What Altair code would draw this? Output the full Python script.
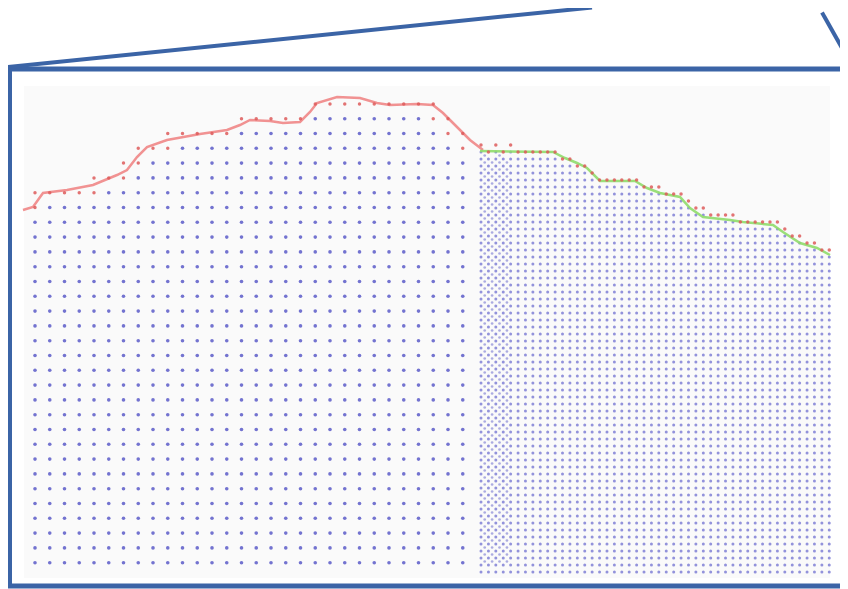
import altair as alt
import pandas as pd

# ---------------- data ----------------
# left (coarse) grid: index of the top row in each of the 30 columns
left_tops = [25, 25, 25, 25, 26, 26, 27, 28, 28, 29, 29, 29, 29, 29, 30,
             30, 30, 30, 30, 31, 31, 31, 31, 31, 31, 31, 31, 31, 30, 29]
# columns that carry a second red dot just below the top one
left_extra_red_col = [0, 4, 6, 7, 9, 27, 28, 29]
left_extra_red_row = [24, 25, 26, 27, 28, 30, 29, 28]

# right (dense) grid: index of the top row in each of the 48 columns
right_tops = [61, 60, 61, 60, 61, 60, 60, 60, 60, 60, 60, 59, 59, 58, 58, 57,
              56, 56, 56, 56, 56, 56, 55, 55, 55, 54, 54, 54, 53, 52, 52, 51,
              51, 51, 51, 50, 50, 50, 50, 50, 50, 49, 48, 48, 47, 47, 46, 46]
n_cross_cols = 4  # columns with the crossed pattern

red_line_x = [23, 33, 43, 67, 93, 117, 127, 137, 147, 167, 200, 227, 240, 250,
              270, 283, 300, 310, 317, 337, 360, 377, 390, 417, 433, 443, 457, 470, 483]
red_line_y = [210, 207, 193, 190, 185, 175, 170, 157, 147, 140, 134, 130, 125, 120,
              121, 123, 122, 112, 103, 97, 98, 103, 105, 104, 105, 113, 127, 140, 150]

green_line_x = [480, 553, 565, 577, 587, 600, 635, 647, 660, 680, 690, 703, 730,
                743, 773, 783, 800, 817, 830]
green_line_y = [151, 152, 158, 163, 168, 181, 181, 188, 193, 197, 208, 217, 220,
                222, 225, 232, 243, 248, 255]

# frame pieces (diagram geometry)
panel = {"x": [24], "x2": [830], "y": [86], "y2": [578]}
frame = {"x": [9.5], "x2": [870], "y": [69], "y2": [586]}
diag_x = [8, 822]
diag_y = [67, 12.5]
diag_x2 = [592, 850]
diag_y2 = [7.5, 62]

# grid geometry
LX0, LDX, LY0, LDY = 35, 14.75, 562.7, 14.8
RX0, RDX, RY0, RDY = 481, 7.41, 572, 7.0

# ---------------- build tables ----------------
blue_rows, red_rows, cross_rows = [], [], []
extra = dict(zip(left_extra_red_col, left_extra_red_row))
for i, top in enumerate(left_tops):
    for k in range(top + 1):
        pt = {"x": LX0 + LDX * i, "y": LY0 - LDY * k}
        if k == top or extra.get(i) == k:
            red_rows.append(pt)
        else:
            blue_rows.append(dict(pt, g="left"))
for j, top in enumerate(right_tops):
    for k in range(top + 1):
        pt = {"x": RX0 + RDX * j, "y": RY0 - RDY * k}
        if k == top:
            red_rows.append(pt)
        else:
            blue_rows.append(dict(pt, g="right"))
    if j < n_cross_cols:
        for k in range(1, top - 1):
            cross_rows.append({"x": RX0 + RDX * (j + 0.5), "y": RY0 - RDY * (k + 0.5)})

blue_df = pd.DataFrame(blue_rows)
red_df = pd.DataFrame(red_rows)
cross_df = pd.DataFrame(cross_rows)
red_line = pd.DataFrame({"x": red_line_x, "y": red_line_y, "o": range(len(red_line_x))})
green_line = pd.DataFrame({"x": green_line_x, "y": green_line_y, "o": range(len(green_line_x))})

W, H = 832, 581
xs = alt.Scale(domain=[8, 8 + W], nice=False, zero=False)
ys = alt.Scale(domain=[8, 8 + H], nice=False, zero=False, reverse=True)
X = lambda f="x": alt.X(f"{f}:Q", scale=xs, axis=None)
Y = lambda f="y": alt.Y(f"{f}:Q", scale=ys, axis=None)

panel_l = alt.Chart(pd.DataFrame(panel)).mark_rect(fill="#fafafa").encode(
    x=X(), x2="x2:Q", y=Y(), y2="y2:Q")
frame_l = alt.Chart(pd.DataFrame(frame)).mark_rect(
    fill=None, stroke="#3b64a6", strokeWidth=5).encode(x=X(), x2="x2:Q", y=Y(), y2="y2:Q")
diag_l = alt.Chart(pd.DataFrame({"x": diag_x, "y": diag_y, "x2": diag_x2, "y2": diag_y2})).mark_rule(
    stroke="#3b64a6", strokeWidth=4).encode(x=X(), y=Y(), x2="x2:Q", y2="y2:Q")

blue_left = alt.Chart(blue_df[blue_df.g == "left"]).mark_circle(
    size=13, color="#5b5bc8", opacity=0.85).encode(x=X(), y=Y())
blue_right = alt.Chart(blue_df[blue_df.g == "right"]).mark_circle(
    size=9, color="#6f6fd0", opacity=0.75).encode(x=X(), y=Y())
cross_l = alt.Chart(cross_df).mark_circle(
    size=7, color="#5b5bc8", opacity=0.5).encode(x=X(), y=Y())

red_line_l = alt.Chart(red_line).mark_line(
    color="#ee7f7f", strokeWidth=2.5, opacity=0.85).encode(x=X(), y=Y(), order="o:Q")
green_line_l = alt.Chart(green_line).mark_line(
    color="#8fdc6a", strokeWidth=2.5, opacity=0.9).encode(x=X(), y=Y(), order="o:Q")
red_dots = alt.Chart(red_df).mark_circle(
    size=12, color="#dd5a5a", opacity=0.85).encode(x=X(), y=Y())

chart = alt.layer(
    panel_l, blue_left, blue_right, cross_l, red_line_l, green_line_l, red_dots, frame_l, diag_l
).properties(
    width=W, height=H, padding=0,
    autosize=alt.AutoSizeParams(type="none"), background="white"
).configure_view(strokeWidth=0)

chart.save("out.html", embed_options={"renderer": "svg", "actions": False})
